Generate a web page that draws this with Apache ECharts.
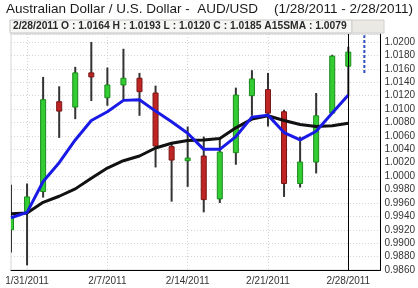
<!DOCTYPE html>
<html><head><meta charset="utf-8">
<script src="https://cdn.jsdelivr.net/npm/echarts@6/dist/echarts.min.js"></script>
<style>html,body{margin:0;padding:0;background:#fff}#c{width:418px;height:288px}</style>
</head><body><div id="c"></div>
<script>
const categories = ['1/28/2011','1/31/2011','2/1/2011','2/2/2011','2/3/2011','2/4/2011','2/7/2011','2/8/2011','2/9/2011','2/10/2011','2/11/2011','2/14/2011','2/15/2011','2/16/2011','2/17/2011','2/18/2011','2/21/2011','2/22/2011','2/23/2011','2/24/2011','2/25/2011','2/28/2011','3/1/2011','3/2/2011'];
const labelDates = ['1/31/2011','2/7/2011','2/14/2011','2/21/2011','2/28/2011'];
const opens  = [0.9920,0.9947,0.9977,1.0111,1.0103,1.0154,1.0117,1.0136,1.0146,1.0124,1.0044,1.0023,1.0030,0.9966,1.0035,1.0120,1.0129,1.0096,0.9989,1.0021,1.0094,1.0164];
const closes = [0.9938,0.9969,1.0114,1.0097,1.0154,1.0148,1.0136,1.0146,1.0126,1.0045,1.0024,1.0027,0.9965,1.0036,1.0121,1.0145,1.0094,0.9989,1.0021,1.0090,1.0179,1.0185];
const lows   = [0.9886,0.9867,0.9968,1.0057,1.0085,1.0112,1.0105,1.0114,1.0090,1.0013,0.9962,0.9984,0.9946,0.9960,1.0017,1.0090,1.0074,0.9969,0.9983,1.0004,1.0093,1.0120];
const highs  = [0.9987,0.9989,1.0148,1.0134,1.0163,1.0200,1.0162,1.0190,1.0154,1.0135,1.0050,1.0074,1.0059,1.0057,1.0132,1.0158,1.0154,1.0099,1.0059,1.0124,1.0181,1.0193];
const shortMA = [0.9938,0.9946,0.9992,1.0020,1.0054,1.0083,1.0096,1.0113,1.0114,1.0097,1.0081,1.0064,1.0040,1.0040,1.0059,1.0088,1.0091,1.0065,1.0054,1.0067,1.0094,1.0121];
const sma15  = [0.9944,0.9945,0.9961,0.9970,0.9981,0.9997,1.0012,1.0023,1.0030,1.0042,1.0049,1.0053,1.0054,1.0056,1.0072,1.0085,1.0090,1.0083,1.0077,1.0074,1.0075,1.0079];
const forecastIdx = 22;
const forecastLow = 1.0154, forecastHigh = 1.0210;
const cursorDate = '2/28/2011';
const titleLeft = 'Australian Dollar / U.S. Dollar -  AUD/USD';
const titleRight = '(1/28/2011 - 2/28/2011)';
const infoText = '2/28/2011 O : 1.0164 H : 1.0193 L : 1.0120 C : 1.0185 A15SMA : 1.0079';

const ohlc = opens.map((o,i)=>[i,o,closes[i],lows[i],highs[i]]);
const FONT = '"Liberation Sans", Arial, sans-serif';

const chart = echarts.init(document.getElementById('c'), null, {renderer:'canvas'});
chart.setOption({
  animation:false,
  backgroundColor:'#fff',
  grid:{left:11,right:33,top:34,bottom:18,show:true,borderColor:'#d6d6d6',borderWidth:1,backgroundColor:'transparent'},
  xAxis:{type:'category',data:categories,boundaryGap:false,
    axisLine:{show:true,lineStyle:{color:'#000',width:1}},
    axisTick:{show:false},
    axisLabel:{interval:(i,v)=>labelDates.includes(v),margin:6,color:'#333',fontSize:10,fontFamily:FONT},
    splitLine:{show:true,interval:(i,v)=>labelDates.includes(v),lineStyle:{color:'#d4d4d4',type:[1,2]}}
  },
  yAxis:{type:'value',position:'right',min:0.986,max:1.0212,interval:0.002,scale:true,
    axisLine:{show:true,lineStyle:{color:'#000',width:1}},
    axisTick:{show:false},
    axisLabel:{showMaxLabel:false,margin:4,color:'#333',fontSize:10,fontFamily:FONT,formatter:v=>v.toFixed(4)},
    splitLine:{show:true,lineStyle:{color:'#d4d4d4',type:[1,2]}}
  },
  graphic:[
    {type:'text',left:6,top:2,style:{text:titleLeft,fontSize:13.5,fontFamily:FONT,fill:'#1a1a1a'}},
    {type:'text',right:5,top:2,style:{text:titleRight,fontSize:13.5,fontFamily:FONT,fill:'#1a1a1a'}},
    {type:'rect',shape:{x:10,y:20,width:342,height:13},style:{fill:'#f6f6f4',stroke:'#c4c4c4',lineWidth:1},z:100},
    {type:'rect',shape:{x:352,y:20,width:32,height:13},style:{fill:'#ebe9e3',stroke:'#d0d0d0',lineWidth:1},z:100},
    {type:'text',left:13,top:21,style:{text:infoText,fontSize:10.3,fontWeight:'bold',fontFamily:FONT,fill:'#2a2a2a'},z:101}
  ],
  series:[
    {type:'custom',clip:true,z:2,data:ohlc,encode:{x:0,y:[1,2,3,4]},
      renderItem:function(params,api){
        const i=api.value(0),o=api.value(1),c=api.value(2),l=api.value(3),h=api.value(4);
        const pH=api.coord([i,h]),pL=api.coord([i,l]),pO=api.coord([i,o]),pC=api.coord([i,c]);
        const up=c>=o;
        const w=5;
        const top=Math.min(pO[1],pC[1]),bot=Math.max(pO[1],pC[1]);
        return {type:'group',children:[
          {type:'line',shape:{x1:pH[0],y1:pH[1],x2:pL[0],y2:pL[1]},style:{stroke:'#333',lineWidth:2}},
          {type:'rect',shape:{x:pO[0]-w/2,y:top,width:w,height:Math.max(bot-top,2)},
            style:{fill:up?'#33cc33':'#c02525',stroke:up?'#1c8a1c':'#7a1515',lineWidth:1}}
        ]};
      }
    },
    {type:'line',data:sma15,z:3,symbol:'none',lineStyle:{color:'#111',width:3},
      markLine:{silent:true,symbol:'none',label:{show:false},lineStyle:{color:'#000',width:1,type:'solid'},data:[{xAxis:cursorDate}]}},
    {type:'line',data:shortMA,z:4,symbol:'none',lineStyle:{color:'#1a1ae6',width:3}},
    {type:'line',data:[[forecastIdx,forecastLow],[forecastIdx,forecastHigh]],z:4,symbol:'none',lineStyle:{color:'#2f4fc0',width:2,type:[3,2]}}
  ]
});
</script></body></html>
